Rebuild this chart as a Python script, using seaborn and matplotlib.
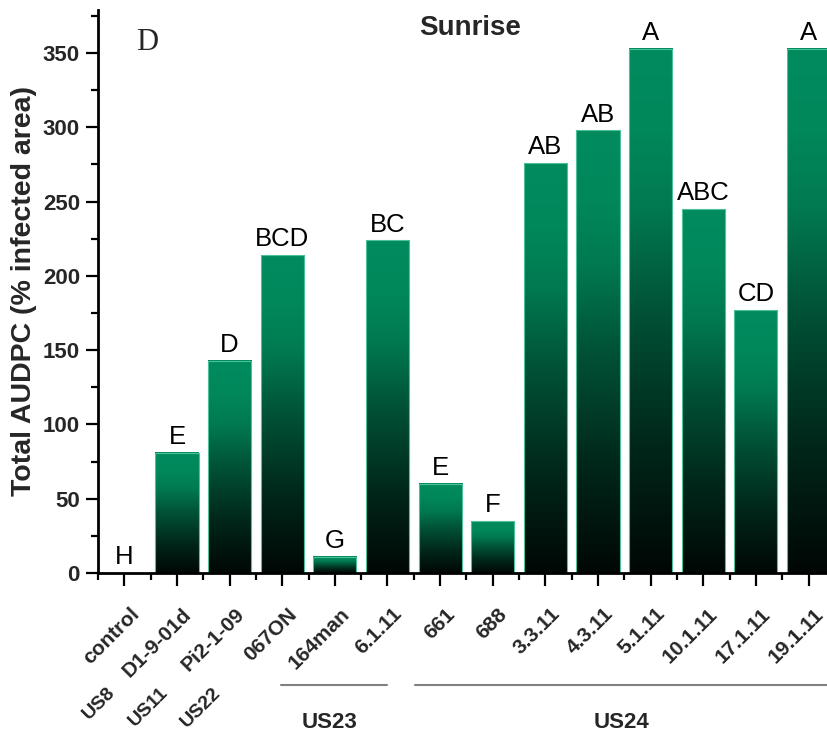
import numpy as np
import pandas as pd
import matplotlib
matplotlib.use("Agg")
import matplotlib.pyplot as plt
import seaborn as sns
from matplotlib.colors import LinearSegmentedColormap
from matplotlib.ticker import MultipleLocator, FixedLocator
import matplotlib.transforms as mtransforms

isolates = ["control", "D1-9-01d", "Pi2-1-09", "067ON", "164man", "6.1.11", "661", "688",
            "3.3.11", "4.3.11", "5.1.11", "10.1.11", "17.1.11", "19.1.11"]
audpc = [0, 81, 143, 214, 11, 224, 60, 35, 276, 298, 353, 245, 177, 353]
letters = ["H", "E", "D", "BCD", "G", "BC", "E", "F", "AB", "AB", "A", "ABC", "CD", "A"]
single_groups = ["US8", "US11", "US22"]
group_names = ["US23", "US24"]

sns.set_theme(style="white")
plt.rcParams['font.family'] = ['Liberation Sans', 'DejaVu Sans']

fig = plt.figure(figsize=(8.28, 7.36), dpi=100)
ax = fig.add_axes([98/828, 1-573/736, 730/828, 563/736])

df = pd.DataFrame({"isolate": isolates, "audpc": audpc})
sns.barplot(data=df, x="isolate", y="audpc", ax=ax, color="#008b5e", width=0.82,
            edgecolor="#4fc198", linewidth=0.8, saturation=1)

cmap = LinearSegmentedColormap.from_list("g", [
    (0.0, "#000705"), (0.25, "#00281a"), (0.5, "#005237"), (0.7, "#007a51"),
    (0.85, "#00885b"), (1.0, "#008b5e")])
grad = np.linspace(0, 1, 256).reshape(-1, 1)
for p in ax.patches:
    x0 = p.get_x(); w = p.get_width(); h = p.get_height()
    if h <= 0:
        continue
    ax.imshow(grad, extent=[x0, x0 + w, 0, h], origin="lower", aspect="auto",
              cmap=cmap, zorder=p.get_zorder() + 0.1)
    p.set_facecolor("none")
    p.set_zorder(p.get_zorder() + 0.2)

for i, (v, t) in enumerate(zip(audpc, letters)):
    ax.text(i, v + 2.5, t, ha="center", va="bottom", fontsize=18.5, color="black")

ax.set_xlim(-0.5, 13.37)
ax.set_ylim(0, 379)

ax.yaxis.set_major_locator(MultipleLocator(50))
ax.yaxis.set_minor_locator(MultipleLocator(25))
ax.xaxis.set_minor_locator(FixedLocator(np.arange(-0.5, 14, 1.0)))

for s in ["top", "right"]:
    ax.spines[s].set_visible(False)
for s in ["left", "bottom"]:
    ax.spines[s].set_color("black")
    ax.spines[s].set_linewidth(2)

ax.tick_params(axis="both", which="major", direction="out", length=9, width=1.6,
               color="black", bottom=True, left=True)
ax.tick_params(axis="both", which="minor", direction="out", length=5, width=1.6,
               color="black", bottom=True, left=True)
ax.tick_params(axis="y", labelsize=16, pad=4)
for lab in ax.get_yticklabels():
    lab.set_fontweight("bold")

ax.set_xticks(range(len(isolates)))
ax.set_xticklabels(isolates, rotation=45, ha="right", va="top", rotation_mode="anchor",
                   fontsize=15, fontweight="bold")
offset = mtransforms.ScaledTranslation(5/100, -14/100, fig.dpi_scale_trans)
for lab in ax.get_xticklabels():
    lab.set_transform(lab.get_transform() + offset)

ax.set_xlabel("")
ax.set_ylabel("Total AUDPC (% infected area)", fontsize=20.5, fontweight="bold")
ax.yaxis.set_label_coords(-(98 - 37) / 730, 0.5)

ax.text(0.51, 0.968, "Sunrise", transform=ax.transAxes, ha="center", va="center",
        fontsize=20, fontweight="bold")
ax.text(0.067, 0.942, "D", transform=ax.transAxes, ha="center", va="center",
        fontsize=22, family="Liberation Serif")

trans = mtransforms.blended_transform_factory(ax.transData, fig.transFigure)
for i, g in enumerate(single_groups):
    ax.text(i - 0.33, 1 - 684/736, g, transform=trans, rotation=45, ha="right", va="top",
            rotation_mode="anchor", fontsize=14, fontweight="bold")

ax.plot([2.97, 5.0], [1 - 685/736] * 2, transform=trans, color="#808080", lw=1.5,
        clip_on=False)
ax.plot([5.53, 13.6], [1 - 685/736] * 2, transform=trans, color="#808080", lw=1.5,
        clip_on=False)
ax.text(3.9, 1 - 722/736, group_names[0], transform=trans, ha="center", va="center",
        fontsize=16, fontweight="bold")
ax.text(9.45, 1 - 722/736, group_names[1], transform=trans, ha="center", va="center",
        fontsize=16, fontweight="bold")

fig.savefig("out.png", dpi=100)
